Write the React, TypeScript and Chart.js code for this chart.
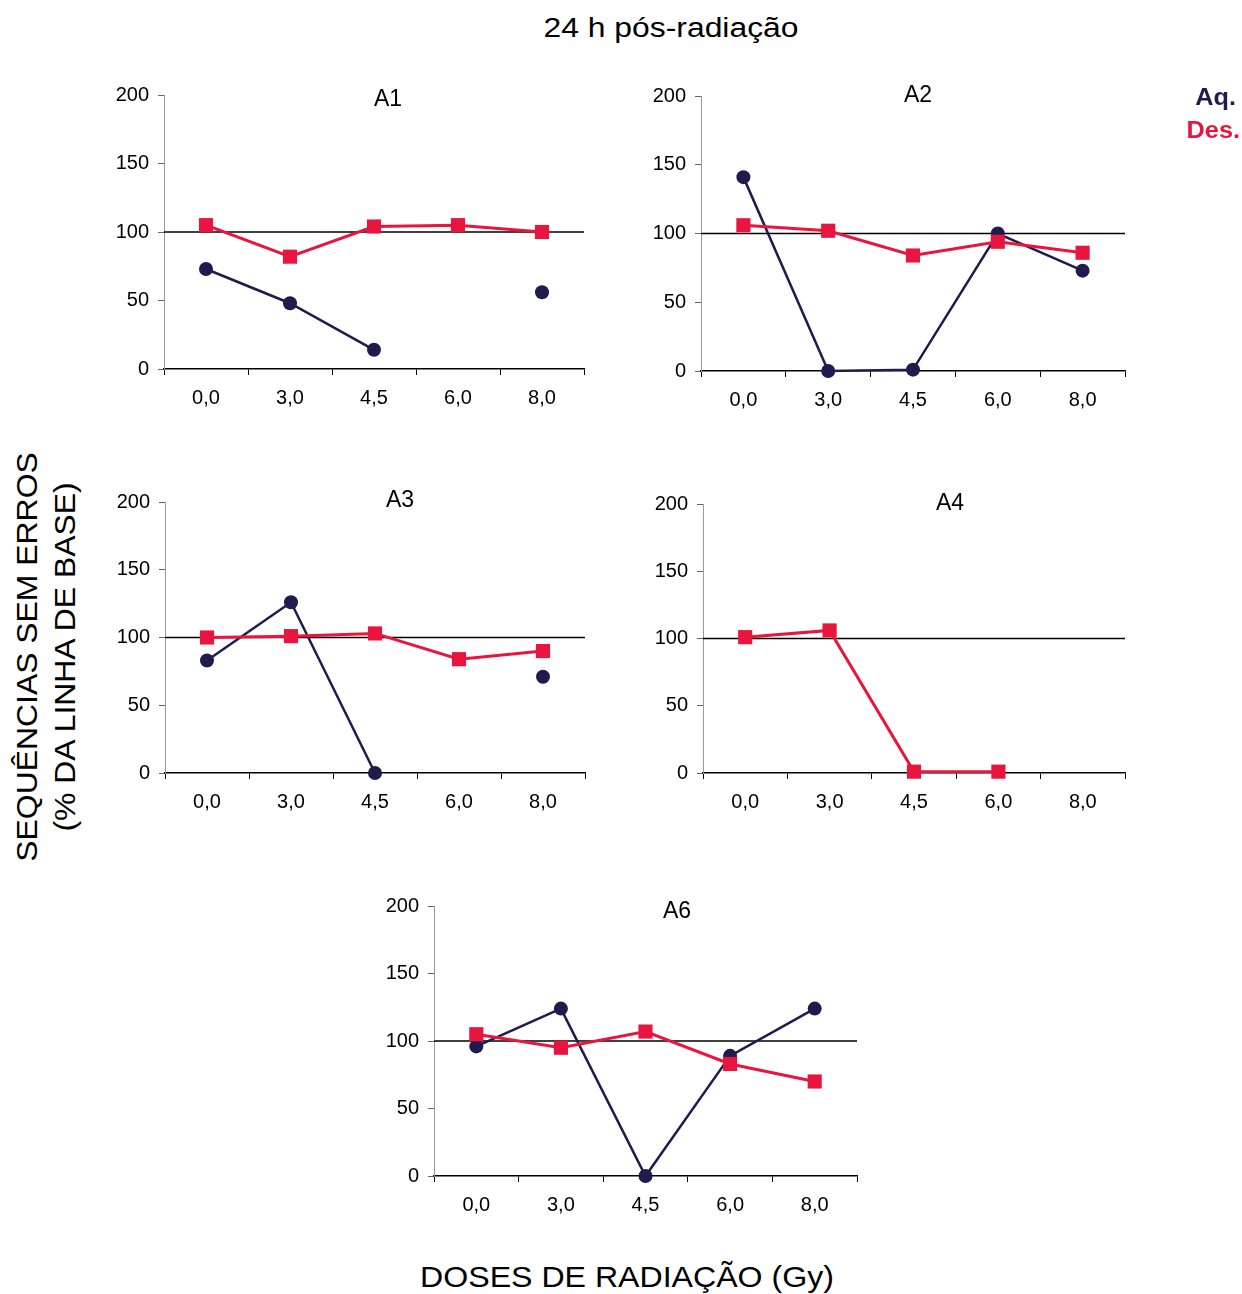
import React, { useEffect, useRef } from "react";
import { Chart, registerables } from "chart.js";

Chart.register(...registerables);

// ---------- data ----------
const CATEGORIES = ["0,0", "3,0", "4,5", "6,0", "8,0"];
const Y_TICKS = [0, 50, 100, 150, 200];
const BASELINE = 100;

const A1_AQ = [73, 48, 14, null, 56];
const A1_DES = [105, 82, 104, 105, 100];
const A2_AQ = [141, 0, 1, 100, 73];
const A2_DES = [106, 102, 84, 94, 86];
const A3_AQ = [83, 126, 0, null, 71];
const A3_DES = [100, 101, 103, 84, 90];
const A4_AQ = [null, null, null, null, null];
const A4_DES = [101, 106, 1, 1, null];
const A6_AQ = [96, 124, 0, 89, 124];
const A6_DES = [105, 95, 107, 83, 70];

const TITLE = "24 h pós-radiação";
const Y_LABEL_1 = "SEQUÊNCIAS SEM ERROS";
const Y_LABEL_2 = "(% DA LINHA DE BASE)";
const X_LABEL = "DOSES DE RADIAÇÃO (Gy)";
const LEGEND_AQ = "Aq.";
const LEGEND_DES = "Des.";

const NAVY = "#1e1b4d";
const RED = "#e8163e";
const FONT = "'Liberation Sans', Arial, Helvetica, sans-serif";

type Panel = {
  name: string;
  aq: (number | null)[];
  des: (number | null)[];
  left: number;
  right: number;
  top: number;
  bottom: number;
  titleX: number;
  titleY: number;
};

const PANELS: Panel[] = [
  { name: "A1", aq: A1_AQ, des: A1_DES, left: 164, right: 584, top: 95, bottom: 369, titleX: 388, titleY: 98 },
  { name: "A2", aq: A2_AQ, des: A2_DES, left: 701, right: 1125, top: 96, bottom: 371, titleX: 918, titleY: 94 },
  { name: "A3", aq: A3_AQ, des: A3_DES, left: 165, right: 585, top: 502, bottom: 773, titleX: 400, titleY: 499 },
  { name: "A4", aq: A4_AQ, des: A4_DES, left: 703, right: 1125, top: 504, bottom: 773, titleX: 950, titleY: 502 },
  { name: "A6", aq: A6_AQ, des: A6_DES, left: 434, right: 857, top: 906, bottom: 1176, titleX: 677, titleY: 910 },
];

const Y_AXIS_W = 62;
const X_AXIS_H = 50;
const PAD_TOP = 24;
const PAD_RIGHT = 14;

const baselinePlugin = {
  id: "baseline",
  beforeDatasetsDraw(chart: any) {
    const { ctx, chartArea, scales } = chart;
    const y = scales.y.getPixelForValue(BASELINE);
    ctx.save();
    ctx.strokeStyle = "#000";
    ctx.lineWidth = 1.5;
    ctx.beginPath();
    ctx.moveTo(chartArea.left, y);
    ctx.lineTo(chartArea.right, y);
    ctx.stroke();
    ctx.restore();
  },
};

function PanelChart({ p }: { p: Panel }) {
  const ref = useRef<HTMLCanvasElement>(null);
  const w = p.right - p.left + Y_AXIS_W + PAD_RIGHT;
  const h = p.bottom - p.top + PAD_TOP + X_AXIS_H;
  useEffect(() => {
    if (!ref.current) return;
    const chart = new Chart(ref.current, {
      type: "line",
      data: {
        labels: CATEGORIES,
        datasets: [
          {
            label: LEGEND_DES,
            data: p.des,
            borderColor: RED,
            backgroundColor: RED,
            borderWidth: 3,
            pointStyle: "rect",
            pointRadius: 10,
            pointBorderWidth: 0,
            spanGaps: false,
            tension: 0,
            clip: false,
          } as any,
          {
            label: LEGEND_AQ,
            data: p.aq,
            borderColor: NAVY,
            backgroundColor: NAVY,
            borderWidth: 2.5,
            pointStyle: "circle",
            pointRadius: 7,
            pointBorderWidth: 0,
            spanGaps: false,
            tension: 0,
            clip: false,
          } as any,
        ],
      },
      options: {
        responsive: false,
        animation: false,
        layout: { padding: { left: 0, top: PAD_TOP, right: PAD_RIGHT, bottom: 0 } },
        plugins: { legend: { display: false }, tooltip: { enabled: false }, title: { display: false } },
        scales: {
          x: {
            type: "category",
            offset: true,
            grid: { display: true, offset: true, drawOnChartArea: false, drawTicks: true, tickLength: 6, color: "#000", lineWidth: 1 },
            border: { display: true, color: "#000", width: 1.5 },
            ticks: { color: "#000", font: { size: 20, family: FONT }, padding: 11, maxRotation: 0, autoSkip: false },
            afterFit: (s: any) => { s.height = X_AXIS_H; },
          },
          y: {
            min: 0,
            max: 200,
            afterBuildTicks: (s: any) => { s.ticks = Y_TICKS.map((v) => ({ value: v })); },
            grid: { display: true, drawOnChartArea: false, drawTicks: true, tickLength: 6, color: "#666", lineWidth: 1 },
            border: { display: true, color: "#999", width: 1, dash: [4, 2] },
            ticks: { color: "#000", font: { size: 20, family: FONT }, padding: 9 },
            afterFit: (s: any) => { s.width = Y_AXIS_W; },
          },
        },
      },
      plugins: [baselinePlugin],
    } as any);
    return () => chart.destroy();
  }, [p]);
  return (
    <canvas
      ref={ref}
      width={w}
      height={h}
      style={{ position: "absolute", left: p.left - Y_AXIS_W, top: p.top - PAD_TOP, width: w, height: h }}
    />
  );
}

function Label({ x, y, text, size, sx = 1, bold = false, color = "#000" }: any) {
  return (
    <div
      style={{
        position: "absolute",
        left: x,
        top: y,
        transform: `translate(-50%, -50%) scaleX(${sx})`,
        fontFamily: FONT,
        fontSize: size,
        fontWeight: bold ? "bold" : "normal",
        color,
        whiteSpace: "nowrap",
        lineHeight: 1,
      }}
    >
      {text}
    </div>
  );
}

export default function App() {
  return (
    <div style={{ position: "absolute", left: 0, top: 0, width: 1242, height: 1294, background: "#fff", overflow: "hidden" }}>
      <Label x={671} y={28} text={TITLE} size={27} sx={1.18} />
      {PANELS.map((p) => (
        <React.Fragment key={p.name}>
          <PanelChart p={p} />
          <Label x={p.titleX} y={p.titleY} text={p.name} size={23} />
        </React.Fragment>
      ))}
      <div style={{ position: "absolute", left: 1236, top: 97, transform: "translate(-100%, -50%) scaleX(1.1)", transformOrigin: "right center", fontFamily: FONT, fontSize: 23, fontWeight: "bold", color: NAVY, lineHeight: 1, whiteSpace: "nowrap" }}>{LEGEND_AQ}</div>
      <div style={{ position: "absolute", left: 1240, top: 130, transform: "translate(-100%, -50%) scaleX(1.1)", transformOrigin: "right center", fontFamily: FONT, fontSize: 23, fontWeight: "bold", color: RED, lineHeight: 1, whiteSpace: "nowrap" }}>{LEGEND_DES}</div>
      <div
        style={{
          position: "absolute",
          left: 46,
          top: 657,
          transform: "translate(-50%, -50%) rotate(-90deg) scaleX(1.1)",
          fontFamily: FONT,
          fontSize: 29,
          lineHeight: "38px",
          textAlign: "center",
          whiteSpace: "nowrap",
          color: "#000",
        }}
      >
        <div>{Y_LABEL_1}</div>
        <div>{Y_LABEL_2}</div>
      </div>
      <Label x={627} y={1277} text={X_LABEL} size={30} sx={1.07} />
    </div>
  );
}
